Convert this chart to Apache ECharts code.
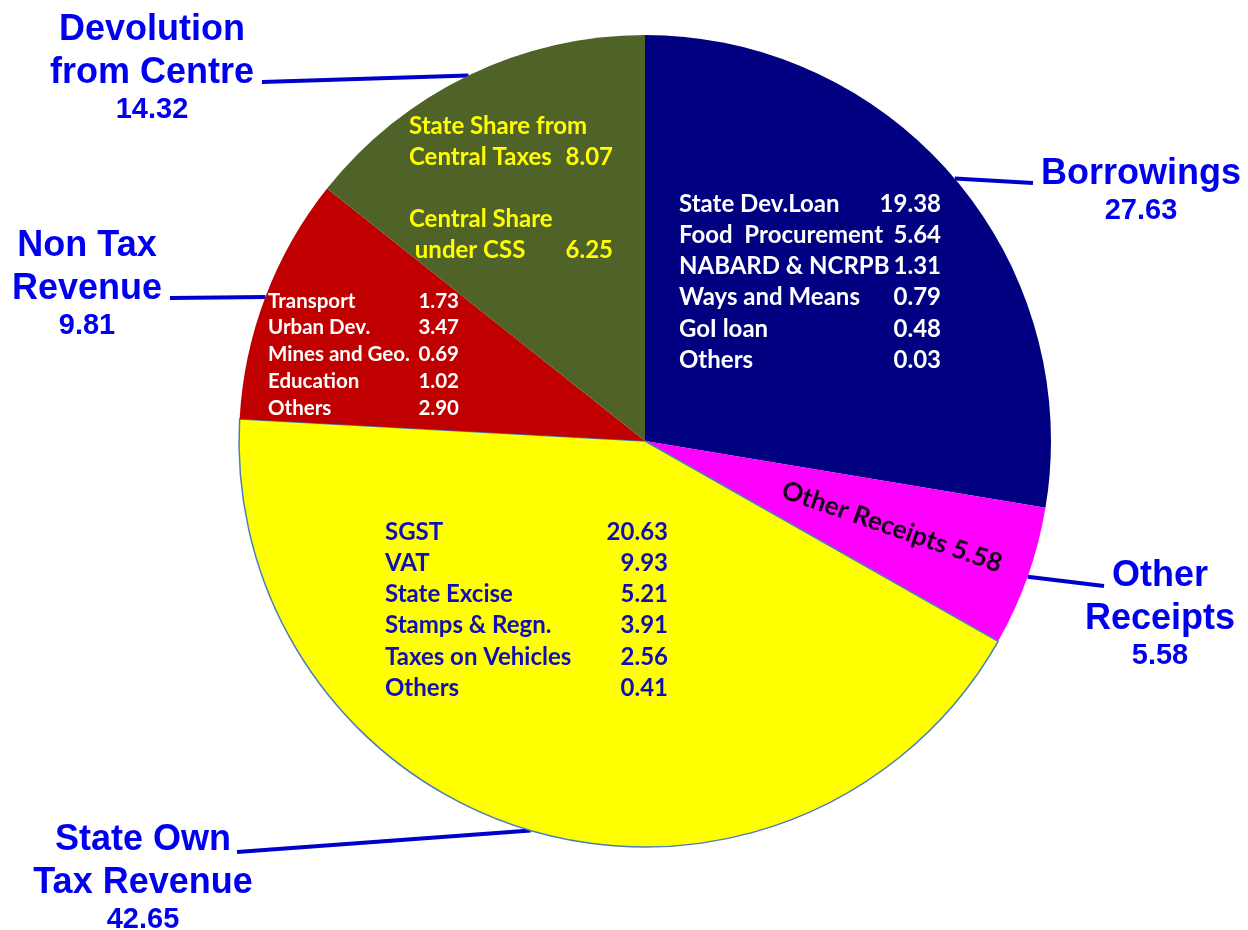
<!DOCTYPE html>
<html><head><meta charset="utf-8">
<script src="https://cdn.jsdelivr.net/npm/echarts@6/dist/echarts.min.js"></script>
<style>html,body{margin:0;padding:0;background:#fff}#chart{width:1248px;height:930px}</style>
</head><body><div id="chart"></div>
<script>
// ---------- DATA ----------
const categories = ['Borrowings', 'Other Receipts', 'State Own Tax Revenue', 'Non Tax Revenue', 'Devolution from Centre'];
const displayNames = ['Borrowings', 'Other\nReceipts', 'State Own\nTax Revenue', 'Non Tax\nRevenue', 'Devolution\nfrom Centre'];
const values = [27.63, 5.58, 42.65, 9.81, 14.32];

const borrowingItems = ['State Dev.Loan', 'Food  Procurement', 'NABARD & NCRPB', 'Ways and Means', 'GoI loan', 'Others'];
const borrowingValues = [19.38, 5.64, 1.31, 0.79, 0.48, 0.03];
const devolutionHeads = ['State Share from', 'Central Share'];
const devolutionItems = ['Central Taxes', ' under CSS'];
const devolutionValues = [8.07, 6.25];
const nonTaxItems = ['Transport', 'Urban Dev.', 'Mines and Geo.', 'Education', 'Others'];
const nonTaxValues = [1.73, 3.47, 0.69, 1.02, 2.90];
const ownTaxItems = ['SGST', 'VAT', 'State Excise', 'Stamps & Regn.', 'Taxes on Vehicles', 'Others'];
const ownTaxValues = [20.63, 9.93, 5.21, 3.91, 2.56, 0.41];

// ---------- STYLE / LAYOUT ----------
const colors = ['#000080', '#ff00ff', '#ffff00', '#c00000', '#4f6228'];
const CENTER = [645, 441], RADIUS = 406;
const outerLayout = [
  {x: 1141, y: 189.5, end: [1033, 183]},
  {x: 1160, y: 613, end: [1104, 586]},
  {x: 143, y: 877, end: [237, 852]},
  {x: 87, y: 283, end: [170, 298]},
  {x: 152, y: 67, end: [262, 82]}
];
const innerLayout = [
  {x: 679, y: 188.4, align: 'left', verticalAlign: 'top'},
  {x: 892, y: 527, align: 'center', verticalAlign: 'middle', rotate: -19},
  {x: 385, y: 516.4, align: 'left', verticalAlign: 'top'},
  {x: 268, y: 287.6, align: 'left', verticalAlign: 'top'},
  {x: 409, y: 110.5, align: 'left', verticalAlign: 'top'}
];
const f2 = v => v.toFixed(2);

function innerText(i) {
  if (i === 0) return borrowingItems.map((n, k) => `{bn|${n}}{bv|${f2(borrowingValues[k])}}`).join('\n');
  if (i === 1) return `{o|${categories[1]} ${f2(values[1])}}`;
  if (i === 2) return ownTaxItems.map((n, k) => `{sn|${n}}{sv|${f2(ownTaxValues[k])}}`).join('\n');
  if (i === 3) return nonTaxItems.map((n, k) => `{nn|${n}}{nv|${f2(nonTaxValues[k])}}`).join('\n');
  return devolutionHeads.map((h, k) => `{dh|${h}}\n{dn|${devolutionItems[k]}}{dv|${f2(devolutionValues[k])}}`).join('\n{dh| }\n');
}

const IF = 'Lato';
const bold = {fontFamily: IF, fontWeight: 'bold'};
const rich = {
  bn: Object.assign({color: '#fff', fontSize: 24, lineHeight: 31.2, width: 198, align: 'left'}, bold),
  bv: Object.assign({color: '#fff', fontSize: 24, lineHeight: 31.2, width: 64, align: 'right'}, bold),
  sn: Object.assign({color: '#1010b0', fontSize: 24, lineHeight: 31.2, width: 219, align: 'left'}, bold),
  sv: Object.assign({color: '#1010b0', fontSize: 24, lineHeight: 31.2, width: 64, align: 'right'}, bold),
  nn: Object.assign({color: '#fff', fontSize: 20.5, lineHeight: 26.8, width: 141, align: 'left'}, bold),
  nv: Object.assign({color: '#fff', fontSize: 20.5, lineHeight: 26.8, width: 50, align: 'right'}, bold),
  dh: Object.assign({color: '#ffff00', fontSize: 24, lineHeight: 31, align: 'left'}, bold),
  dn: Object.assign({color: '#ffff00', fontSize: 24, lineHeight: 31, width: 150, align: 'left'}, bold),
  dv: Object.assign({color: '#ffff00', fontSize: 24, lineHeight: 31, width: 54, align: 'right'}, bold),
  o: Object.assign({color: '#140014', fontSize: 26, lineHeight: 30}, bold)
};

const chart = echarts.init(document.getElementById('chart'), null, {renderer: 'canvas'});
chart.setOption({
  animation: false,
  backgroundColor: '#ffffff',
  series: [
    {
      type: 'pie', center: CENTER, radius: RADIUS, startAngle: 90, clockwise: true,
      avoidLabelOverlap: false, silent: true,
      data: categories.map((c, i) => ({
        name: c, value: values[i],
        itemStyle: Object.assign({color: colors[i]}, i === 2 ? {borderColor: '#4a7ebb', borderWidth: 1.5} : {borderWidth: 0})
      })),
      label: {
        show: true, position: 'outside',
        formatter: p => `{n|${displayNames[p.dataIndex]}}\n{v|${f2(values[p.dataIndex])}}`,
        rich: {
          n: {fontFamily: 'Liberation Sans', fontWeight: 'bold', fontSize: 36, lineHeight: 43, color: '#0000ee', align: 'center'},
          v: {fontFamily: 'Liberation Sans', fontWeight: 'bold', fontSize: 29, lineHeight: 31, color: '#0000ee', align: 'center'}
        }
      },
      labelLine: {show: true, length: 0, length2: 0, smooth: false, lineStyle: {color: '#0000cc', width: 4}},
      labelLayout: p => {
        const L = outerLayout[p.dataIndex];
        let start;
        if (p.labelLinePoints && p.labelLinePoints[0]) start = p.labelLinePoints[0];
        else {
          let acc = 0; for (let k = 0; k < p.dataIndex; k++) acc += values[k];
          const tot = values.reduce((a, b) => a + b, 0);
          const ang = (acc + values[p.dataIndex] / 2) / tot * 2 * Math.PI;
          start = [CENTER[0] + RADIUS * Math.sin(ang), CENTER[1] - RADIUS * Math.cos(ang)];
        }
        return {x: L.x, y: L.y, align: 'center', verticalAlign: 'middle', labelLinePoints: [start, L.end]};
      }
    },
    {
      type: 'pie', center: CENTER, radius: RADIUS, startAngle: 90, clockwise: true,
      avoidLabelOverlap: false, silent: true, z: 3,
      data: categories.map((c, i) => ({name: c, value: values[i], itemStyle: {color: 'rgba(0,0,0,0)'}})),
      label: {show: true, position: 'inside', formatter: p => innerText(p.dataIndex), rich: rich},
      labelLine: {show: false},
      labelLayout: p => {
        const L = innerLayout[p.dataIndex];
        const r = {x: L.x, y: L.y, align: L.align, verticalAlign: L.verticalAlign};
        if (L.rotate != null) r.rotate = L.rotate;
        return r;
      }
    }
  ]
});
</script></body></html>
